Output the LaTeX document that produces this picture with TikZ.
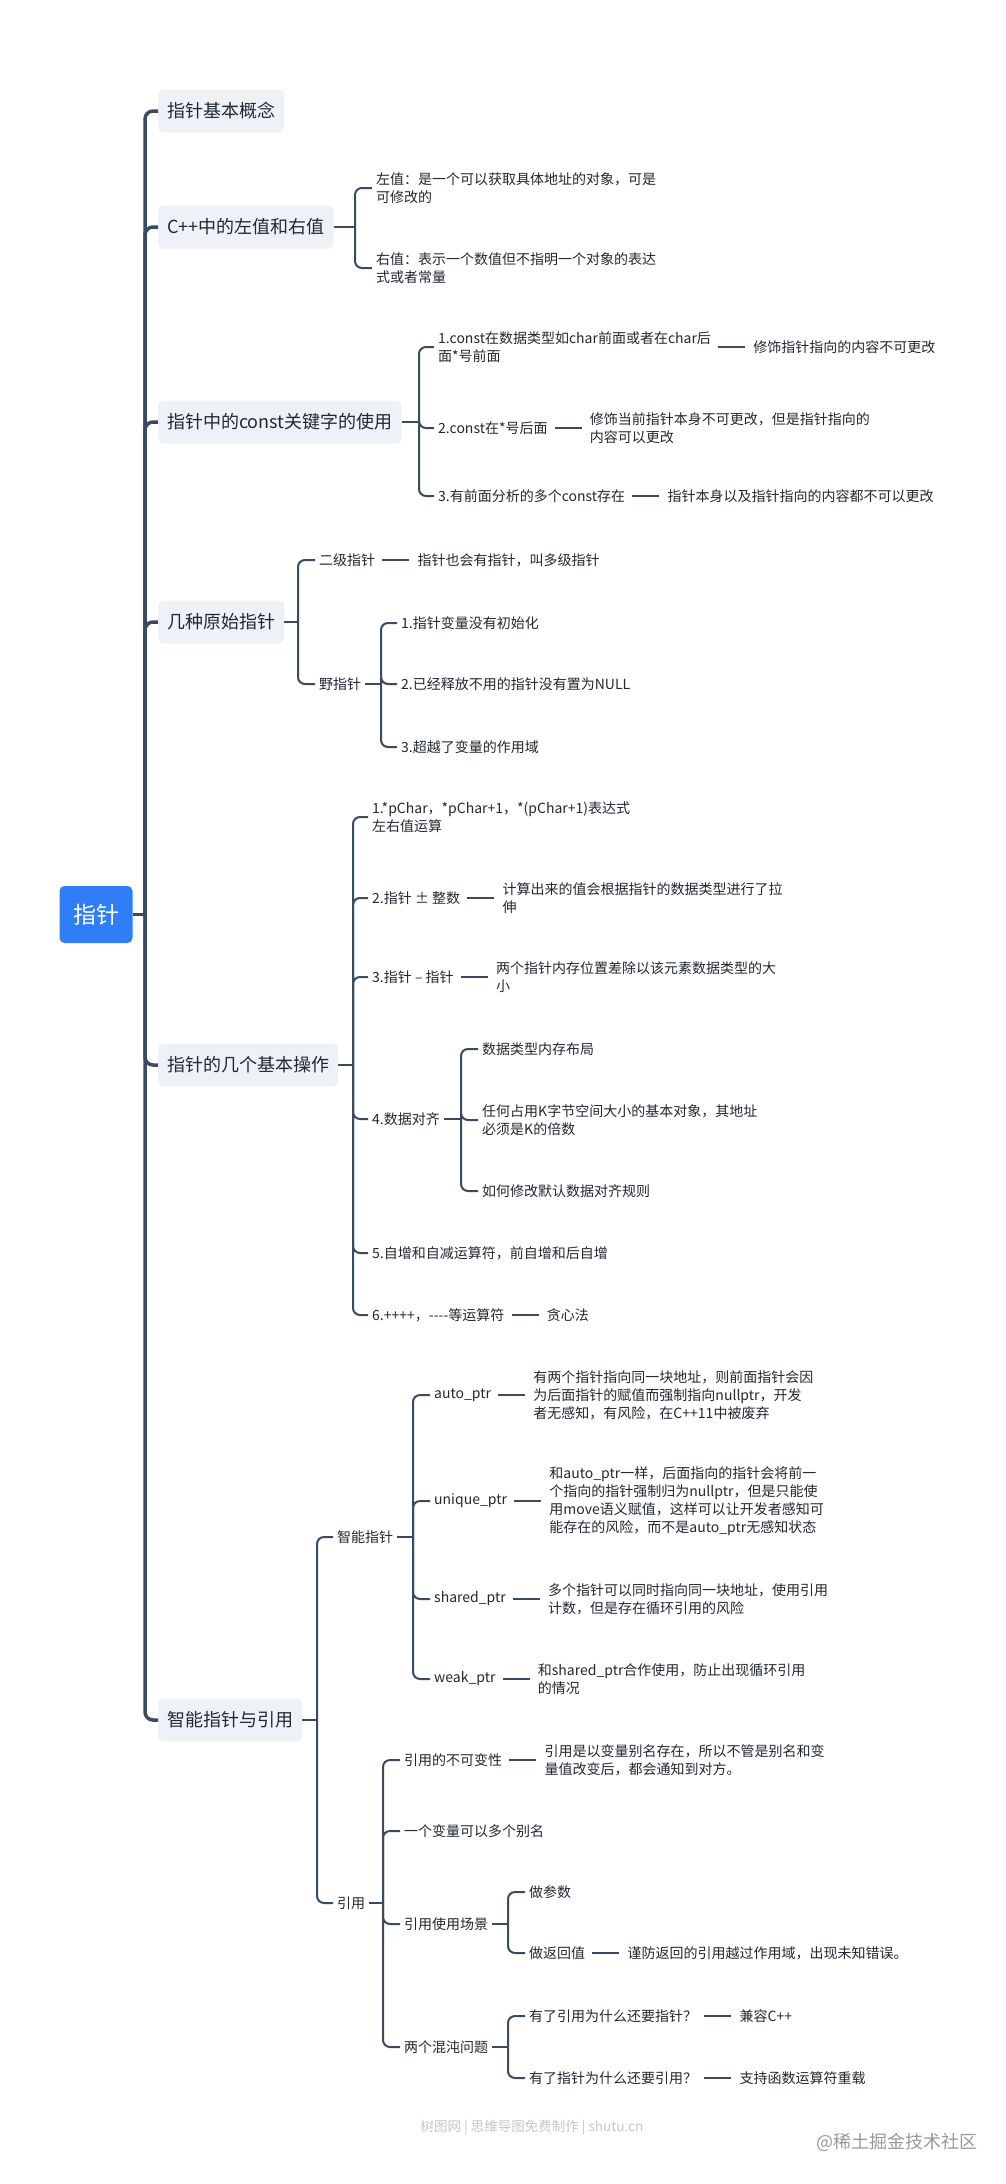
\documentclass[tikz,border=0pt]{standalone}
\usepackage{fontspec}
\setmainfont{Noto Sans CJK SC}[Ligatures=TeXOff]
\usepackage{xcolor}
\definecolor{ink}{HTML}{222831}
\definecolor{wire}{HTML}{3A4A5F}
\definecolor{rootblue}{HTML}{2F7DF7}
\definecolor{topicbg}{HTML}{EEF1F5}
\usetikzlibrary{positioning,calc}
\tikzset{
  root/.style={fill=rootblue,rounded corners=5pt,text=white,minimum width=73pt,
               minimum height=57pt,inner sep=0pt,font=\fontsize{23}{28}\selectfont},
  topic/.style={fill=topicbg,rounded corners=5pt,text=ink,minimum height=43pt,
                inner xsep=9pt,anchor=west,font=\fontsize{18}{22}\selectfont},
  itm/.style={text=ink,align=left,inner xsep=4pt,inner ysep=2pt,anchor=west,
              font=\fontsize{14}{18}\selectfont},
  note/.style={itm,right=34pt of #1},
  spine/.style={draw=wire,line width=3.5pt,rounded corners=8pt},
  wire/.style={draw=wire,line width=2pt,rounded corners=7pt},
  tie/.style={draw=wire,line width=2pt,shorten <=3pt,shorten >=4pt},
  foot/.style={text=black!22,font=\fontsize{13.5}{16}\selectfont},
}

\begin{document}
\begin{tikzpicture}[x=1pt,y=-1pt]
  \fill[white] (0,0) rectangle (1005,2184);
  \useasboundingbox (0,0) rectangle (1005,2184);

  % root and main topics
  \node[root] (root) at (96,914.5) {指针};
  \coordinate (j0) at (145,914.5);
  \node[topic] (t1) at (158,111) {指针基本概念};
  \node[topic] (t2) at (158,227) {C++中的左值和右值};
  \node[topic] (t3) at (158,422) {指针中的const关键字的使用};
  \node[topic] (t4) at (158,622) {几种原始指针};
  \node[topic] (t5) at (158,1065) {指针的几个基本操作};
  \node[topic] (t6) at (158,1720) {智能指针与引用};
  \draw[spine] (root) -- (j0);
  \foreach \t in {t1,t2,t3,t4,t5,t6}
    \draw[spine] (j0) |- (\t.west);

  % left and right values
  \coordinate (j2) at (355,227);
  \node[itm] (lv) at (372,188) {左值：是一个可以获取具体地址的对象，可是\\可修改的};
  \node[itm] (rv) at (372,268) {右值：表示一个数值但不指明一个对象的表达\\式或者常量};
  \draw[wire] (t2.east) -- (j2);
  \draw[wire] (j2) |- (lv.west);
  \draw[wire] (j2) |- (rv.west);

  % const
  \coordinate (j3) at (419,422);
  \node[itm] (c1) at (434,347) {1.const在数据类型如char前面或者在char后\\面*号前面};
  \node[note=c1] (c1d) {修饰指针指向的内容不可更改};
  \node[itm] (c2) at (434,428) {2.const在*号后面};
  \node[note=c2] (c2d) {修饰当前指针本身不可更改，但是指针指向的\\内容可以更改};
  \node[itm] (c3) at (434,496) {3.有前面分析的多个const存在};
  \node[note=c3] (c3d) {指针本身以及指针指向的内容都不可以更改};
  \draw[wire] (t3.east) -- (j3);
  \draw[wire] (j3) |- (c1.west);
  \draw[wire] (j3) |- (c2.west);
  \draw[wire] (j3) |- (c3.west);
  \draw[tie] (c1) -- (c1d);
  \draw[tie] (c2) -- (c2d);
  \draw[tie] (c3) -- (c3d);

  % raw pointers
  \coordinate (j4) at (298,622);
  \node[itm] (r1) at (315,560) {二级指针};
  \node[note=r1] (r1d) {指针也会有指针，叫多级指针};
  \node[itm] (r2) at (315,684) {野指针};
  \coordinate (jr2) at (381,684);
  \node[itm] (r2a) at (397,623) {1.指针变量没有初始化};
  \node[itm] (r2b) at (397,684) {2.已经释放不用的指针没有置为NULL};
  \node[itm] (r2c) at (397,747) {3.超越了变量的作用域};
  \draw[wire] (t4.east) -- (j4);
  \draw[wire] (j4) |- (r1.west);
  \draw[wire] (j4) |- (r2.west);
  \draw[tie] (r1) -- (r1d);
  \draw[wire] (r2.east) -- (jr2);
  \draw[wire] (jr2) |- (r2a.west);
  \draw[wire] (jr2) |- (r2b.west);
  \draw[wire] (jr2) |- (r2c.west);

  % basic operations
  \coordinate (j5) at (353,1065);
  \node[itm] (o1) at (368,817) {1.*pChar，*pChar+1，*(pChar+1)表达式\\左右值运算};
  \node[itm] (o2) at (368,898) {2.指针 ± 整数};
  \node[note=o2] (o2d) {计算出来的值会根据指针的数据类型进行了拉\\伸};
  \node[itm] (o3) at (368,977) {3.指针 – 指针};
  \node[note=o3] (o3d) {两个指针内存位置差除以该元素数据类型的大\\小};
  \node[itm] (o4) at (368,1119) {4.数据对齐};
  \coordinate (jo4) at (461,1119);
  \node[itm] (o4a) at (478,1049) {数据类型内存布局};
  \node[itm] (o4b) at (478,1120) {任何占用K字节空间大小的基本对象，其地址\\必须是K的倍数};
  \node[itm] (o4c) at (478,1191) {如何修改默认数据对齐规则};
  \node[itm] (o5) at (368,1253) {5.自增和自减运算符，前自增和后自增};
  \node[itm] (o6) at (368,1315) {6.++++，----等运算符};
  \node[note=o6] (o6d) {贪心法};
  \draw[wire] (t5.east) -- (j5);
  \foreach \o in {o1,o2,o3,o4,o5,o6}
    \draw[wire] (j5) |- (\o.west);
  \draw[tie] (o2) -- (o2d);
  \draw[tie] (o3) -- (o3d);
  \draw[tie] (o6) -- (o6d);
  \draw[wire] (o4.east) -- (jo4);
  \draw[wire] (jo4) |- (o4a.west);
  \draw[wire] (jo4) |- (o4b.west);
  \draw[wire] (jo4) |- (o4c.west);

  % smart pointers and references
  \coordinate (j6) at (317,1720);
  \node[itm] (sp) at (333,1537) {智能指针};
  \coordinate (jsp) at (413,1537);
  \node[itm] (sa) at (430,1395) {auto\_ptr};
  \node[note=sa] (sad) {有两个指针指向同一块地址，则前面指针会因\\为后面指针的赋值而强制指向nullptr，开发\\者无感知，有风险，在C++11中被废弃};
  \node[itm] (sb) at (430,1501) {unique\_ptr};
  \node[note=sb] (sbd) {和auto\_ptr一样，后面指向的指针会将前一\\个指向的指针强制归为nullptr，但是只能使\\用move语义赋值，这样可以让开发者感知可\\能存在的风险，而不是auto\_ptr无感知状态};
  \node[itm] (sc) at (430,1599) {shared\_ptr};
  \node[note=sc] (scd) {多个指针可以同时指向同一块地址，使用引用\\计数，但是存在循环引用的风险};
  \node[itm] (sd) at (430,1679) {weak\_ptr};
  \node[note=sd] (sdd) {和shared\_ptr合作使用，防止出现循环引用\\的情况};
  \draw[wire] (t6.east) -- (j6);
  \draw[wire] (j6) |- (sp.west);
  \draw[wire] (sp.east) -- (jsp);
  \foreach \s in {sa,sb,sc,sd}
    \draw[wire] (jsp) |- (\s.west);
  \draw[tie] (sa) -- (sad);
  \draw[tie] (sb) -- (sbd);
  \draw[tie] (sc) -- (scd);
  \draw[tie] (sd) -- (sdd);

  \node[itm] (rf) at (333,1903) {引用};
  \coordinate (jrf) at (383,1903);
  \node[itm] (ya) at (400,1760) {引用的不可变性};
  \node[note=ya] (yad) {引用是以变量别名存在，所以不管是别名和变\\量值改变后，都会通知到对方。};
  \node[itm] (yb) at (400,1831) {一个变量可以多个别名};
  \node[itm] (yc) at (400,1924) {引用使用场景};
  \coordinate (jyc) at (508,1924);
  \node[itm] (yc1) at (525,1892) {做参数};
  \node[itm] (yc2) at (525,1953) {做返回值};
  \node[note=yc2] (yc2d) {谨防返回的引用越过作用域，出现未知错误。};
  \node[itm] (yd) at (400,2047) {两个混沌问题};
  \coordinate (jyd) at (508,2047);
  \node[itm] (yd1) at (525,2016) {有了引用为什么还要指针？};
  \node[note=yd1] (yd1d) {兼容C++};
  \node[itm] (yd2) at (525,2078) {有了指针为什么还要引用？};
  \node[note=yd2] (yd2d) {支持函数运算符重载};
  \draw[wire] (j6) |- (rf.west);
  \draw[wire] (rf.east) -- (jrf);
  \foreach \y in {ya,yb,yc,yd}
    \draw[wire] (jrf) |- (\y.west);
  \draw[tie] (ya) -- (yad);
  \draw[wire] (yc.east) -- (jyc);
  \draw[wire] (jyc) |- (yc1.west);
  \draw[wire] (jyc) |- (yc2.west);
  \draw[tie] (yc2) -- (yc2d);
  \draw[wire] (yd.east) -- (jyd);
  \draw[wire] (jyd) |- (yd1.west);
  \draw[wire] (jyd) |- (yd2.west);
  \draw[tie] (yd1) -- (yd1d);
  \draw[tie] (yd2) -- (yd2d);

  % footer
  \node[foot] (src) at (532,2128) {树图网 | 思维导图免费制作 | shutu.cn};
  \node[text=black!40,font=\fontsize{18}{22}\selectfont] (wm) at (897,2142) {@稀土掘金技术社区};
\end{tikzpicture}
\end{document}
